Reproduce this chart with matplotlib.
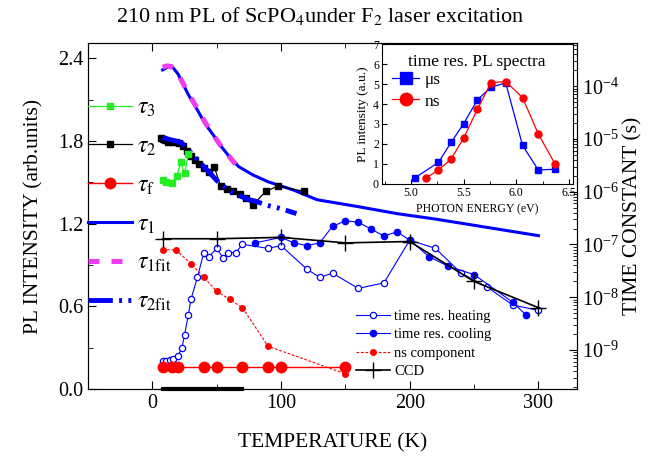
import matplotlib
matplotlib.use("Agg")
import matplotlib.pyplot as plt
from matplotlib.ticker import MultipleLocator, LogLocator, NullFormatter, FormatStrFormatter

plt.rcParams['font.family'] = ['Liberation Serif', 'DejaVu Serif']
plt.rcParams['mathtext.fontset'] = 'stix'

# ---- PL intensity (left axis, arb. units) ----
heat_T = [8, 11, 14, 16, 20, 23, 25, 28, 30, 35, 40, 44, 50, 55, 59, 65, 70, 90, 100,
          120, 130, 140, 160, 180, 200, 220, 240, 260, 280, 300]
heat_I = [0.20, 0.20, 0.21, 0.22, 0.24, 0.30, 0.39, 0.54, 0.65, 0.81, 0.99, 0.96, 1.02, 0.95,
          0.99, 0.99, 1.05, 1.02, 1.04, 0.87, 0.81, 0.84, 0.73, 0.77, 1.08, 1.02, 0.84,
          0.74, 0.61, 0.57]
cool_T = [80, 100, 110, 120, 130, 140, 150, 160, 170, 180, 190, 200, 215, 230, 250, 280, 290]
cool_I = [1.06, 1.10, 1.06, 1.04, 1.06, 1.18, 1.22, 1.21, 1.16, 1.11, 1.14, 1.08, 0.96,
          0.89, 0.83, 0.63, 0.54]
ns_T = [8, 18, 30, 40, 50, 60, 70, 90, 150]
ns_I = [1.01, 1.01, 0.91, 0.81, 0.71, 0.65, 0.59, 0.31, 0.11]
ccd_T = [8, 50, 100, 150, 200, 250, 300]
ccd_I = [1.09, 1.09, 1.10, 1.06, 1.07, 0.78, 0.59]
base_T = [8, 70]
base_I = [0.0, 0.0]

# ---- time constants (right axis, seconds) ----
tau1_T = [8, 12, 15, 20, 28, 35, 41, 48, 54, 60, 67, 78, 90, 110, 128, 160, 190, 220, 260, 300]
tau1 = [2.04e-4, 2.30e-4, 2.44e-4, 1.70e-4, 6.9e-5, 3.55e-5, 1.94e-5, 1.13e-5, 6.97e-6,
        4.57e-6, 3.00e-6, 2.09e-6, 1.54e-6, 1.07e-6, 7.05e-7, 5.21e-7, 3.85e-7, 3.03e-7,
        2.11e-7, 1.47e-7]
tau1fit_T = [8, 12, 15, 20, 28, 35, 41, 48, 54, 60, 67]
tau1fit = [2.30e-4, 2.44e-4, 2.30e-4, 1.70e-4, 7.33e-5, 3.78e-5, 2.07e-5, 1.13e-5, 6.97e-6,
           4.57e-6, 2.82e-6]
tau2_T = [7, 8, 10, 12, 15, 18, 21, 24, 27, 30, 33, 36, 40, 44, 48, 53, 58, 63, 68, 73, 78,
          88, 98, 118]
tau2 = [1.06e-5, 1.00e-5, 9.42e-6, 8.87e-6, 8.87e-6, 8.87e-6, 8.36e-6, 7.40e-6, 5.82e-6,
        4.85e-6, 4.05e-6, 3.38e-6, 2.82e-6, 2.35e-6, 3.00e-6, 1.29e-6, 1.14e-6, 1.01e-6,
        8.97e-7, 7.48e-7, 5.53e-7, 1.01e-6, 1.29e-6, 1.01e-6]
tau2fit_T = [8, 12, 16, 20, 23, 27, 31, 36, 40, 45, 50, 55, 59, 65, 70, 75, 80, 89, 98, 105, 112]
tau2fit = [1.06e-5, 1.00e-5, 9.42e-6, 8.87e-6, 8.36e-6, 6.56e-6, 5.15e-6, 3.81e-6, 3.00e-6,
           2.22e-6, 1.64e-6, 1.29e-6, 1.07e-6, 8.97e-7, 7.94e-7, 7.05e-7, 6.64e-7, 5.53e-7,
           4.91e-7, 4.36e-7, 3.85e-7]
tau3_T = [8, 11, 15, 19, 22, 25, 28]
tau3 = [1.64e-6, 1.54e-6, 1.45e-6, 1.96e-6, 3.59e-6, 2.22e-6, 5.15e-6]
tauf_T = [8, 15, 20, 40, 50, 70, 90, 100, 150]
tauf = [4.7e-10] * 9

# ---- inset: time resolved PL spectra ----
E_us = [5.04, 5.26, 5.38, 5.50, 5.63, 5.76, 5.90, 6.06, 6.21, 6.37]
I_us = [0.32, 1.08, 2.08, 3.02, 4.20, 4.85, 5.05, 1.93, 0.70, 0.74]
E_ns = [5.14, 5.26, 5.38, 5.50, 5.63, 5.76, 5.90, 6.06, 6.21, 6.37]
I_ns = [0.29, 0.70, 1.24, 2.30, 3.73, 5.07, 5.12, 4.32, 2.50, 0.99]

W, H = 648, 457
fig = plt.figure(figsize=(W / 100, H / 100), dpi=100)
ax = fig.add_axes([88 / W, 1 - 389 / H, (577 - 88) / W, (389 - 43) / H])
ax2 = ax.twinx()

# intensity curves
h_heat, = ax.plot(heat_T, heat_I, color='blue', lw=0.8, marker='o', ms=4.5,
                  mfc='white', mec='blue', mew=0.9, label='time res. heating')
h_cool, = ax.plot(cool_T, cool_I, color='blue', lw=0.8, marker='o', ms=4.5,
                  label='time res. cooling')
h_ns, = ax.plot(ns_T, ns_I, color='red', lw=0.8, ls=(0, (2.5, 1.5)), marker='o', ms=4,
                label='ns component')
h_ccd, = ax.plot(ccd_T, ccd_I, color='black', lw=1.2, marker='+', ms=12, mew=1,
                 label='CCD')
ax.plot(base_T, base_I, color='black', lw=3, clip_on=False, zorder=5)

# time constants
ax2.set_yscale('log')
t1, = ax2.plot(tau1_T, tau1, color='blue', lw=2.2)
t1f, = ax2.plot(tau1fit_T, tau1fit, color='#f03cf0', lw=3.6, dashes=(2.2, 2.4))
t2, = ax2.plot(tau2_T, tau2, color='black', lw=0.9, marker='s', ms=4)
t2f, = ax2.plot(tau2fit_T, tau2fit, color='blue', lw=3.5,
                dashes=(5, 1.3, 0.6, 1.3, 0.6, 1.3))
t3, = ax2.plot(tau3_T, tau3, color='#22ee22', lw=0.9, marker='s', ms=4)
tf, = ax2.plot(tauf_T, tauf, color='red', lw=1, marker='o', ms=7.5)

ax.set_xlim(-50, 330)
ax.set_ylim(0, 2.51)
ax2.set_ylim(1.82e-10, 6.6e-4)

ax.xaxis.set_major_locator(MultipleLocator(100))
ax.xaxis.set_minor_locator(MultipleLocator(50))
ax.yaxis.set_major_locator(MultipleLocator(0.6))
ax.yaxis.set_minor_locator(MultipleLocator(0.3))
ax.yaxis.set_major_formatter(FormatStrFormatter('%.1f'))
ax.tick_params(which='both', direction='in', top=True, right=False, labelsize=14.5)
ax.tick_params(which='major', length=6)
ax.tick_params(which='minor', length=3.5)
ax2.yaxis.set_major_locator(LogLocator(base=10, numticks=20))
ax2.yaxis.set_minor_locator(LogLocator(base=10, subs=range(2, 10), numticks=20))
ax2.yaxis.set_minor_formatter(NullFormatter())
ax2.tick_params(which='both', direction='in', labelsize=14.5)
ax2.tick_params(which='major', length=6)
ax2.tick_params(which='minor', length=3)

ax.set_xlabel('TEMPERATURE (K)', fontsize=15.5, labelpad=15)
ax.set_ylabel('PL INTENSITY (arb.units)', fontsize=15.5, labelpad=10)
ax2.set_ylabel('TIME CONSTANT (s)', fontsize=15.5, labelpad=3)

fig.text(320 / W, 1 - 16 / H, r'210 nm PL of ScPO$_4$under F$_2$ laser excitation',
         fontsize=16, ha='center', va='center')

# left-hand key for the time constants
tau_labels = [r'$\tau_3$', r'$\tau_2$', r'$\tau_\mathrm{f}$', r'$\tau_1$',
              r'$\tau_\mathrm{1fit}$', r'$\tau_\mathrm{2fit}$']
ax2.legend([t3, t2, tf, t1, t1f, t2f], tau_labels,
           loc='upper left', bbox_to_anchor=(0, 0.843), frameon=False, fontsize=17,
           handlelength=1.86, handletextpad=0.2, borderpad=0, borderaxespad=0,
           labelspacing=0.72, numpoints=1)

ax.legend([h_heat, h_cool, h_ns, h_ccd],
          ['time res. heating', 'time res. cooling', 'ns component', 'CCD'],
          loc='upper left', bbox_to_anchor=(0.549, 0.23), frameon=False, fontsize=10.5,
          handlelength=2.3, handletextpad=0.27, borderpad=0, borderaxespad=0,
          labelspacing=0.37, numpoints=1)

# inset
axi = fig.add_axes([381.7 / W, 1 - 184 / H, 191.3 / W, 140 / H])
axi.set_facecolor('white')
iu, = axi.plot(E_us, I_us, color='blue', lw=0.9, marker='s', ms=5)
in_, = axi.plot(E_ns, I_ns, color='red', lw=0.9, marker='o', ms=5)
axi.set_xlim(4.72, 6.54)
axi.set_ylim(0, 7)
axi.xaxis.set_major_locator(MultipleLocator(0.5))
axi.xaxis.set_major_formatter(FormatStrFormatter('%.1f'))
axi.xaxis.set_minor_locator(MultipleLocator(0.25))
axi.yaxis.set_major_locator(MultipleLocator(1))
axi.tick_params(which='both', direction='in', labelsize=8.6, pad=2)
axi.tick_params(which='major', length=3.5)
axi.tick_params(which='minor', length=2)
axi.set_xlabel('PHOTON ENERGY (eV)', fontsize=8.5, labelpad=3)
axi.set_ylabel('PL intensity (a.u.)', fontsize=9.5, labelpad=3)
axi.text(0.135, 0.87, 'time res. PL spectra', transform=axi.transAxes, fontsize=12.5,
         va='center', ha='left')
axi.legend([iu, in_], ['\u03bcs', 'ns'], loc='upper left', bbox_to_anchor=(0.052, 0.80),
           frameon=False, fontsize=12.5, handlelength=1.6, handletextpad=0.3,
           borderpad=0, borderaxespad=0, labelspacing=0.3, markerscale=1.8)

fig.savefig('out.png', dpi=100)
